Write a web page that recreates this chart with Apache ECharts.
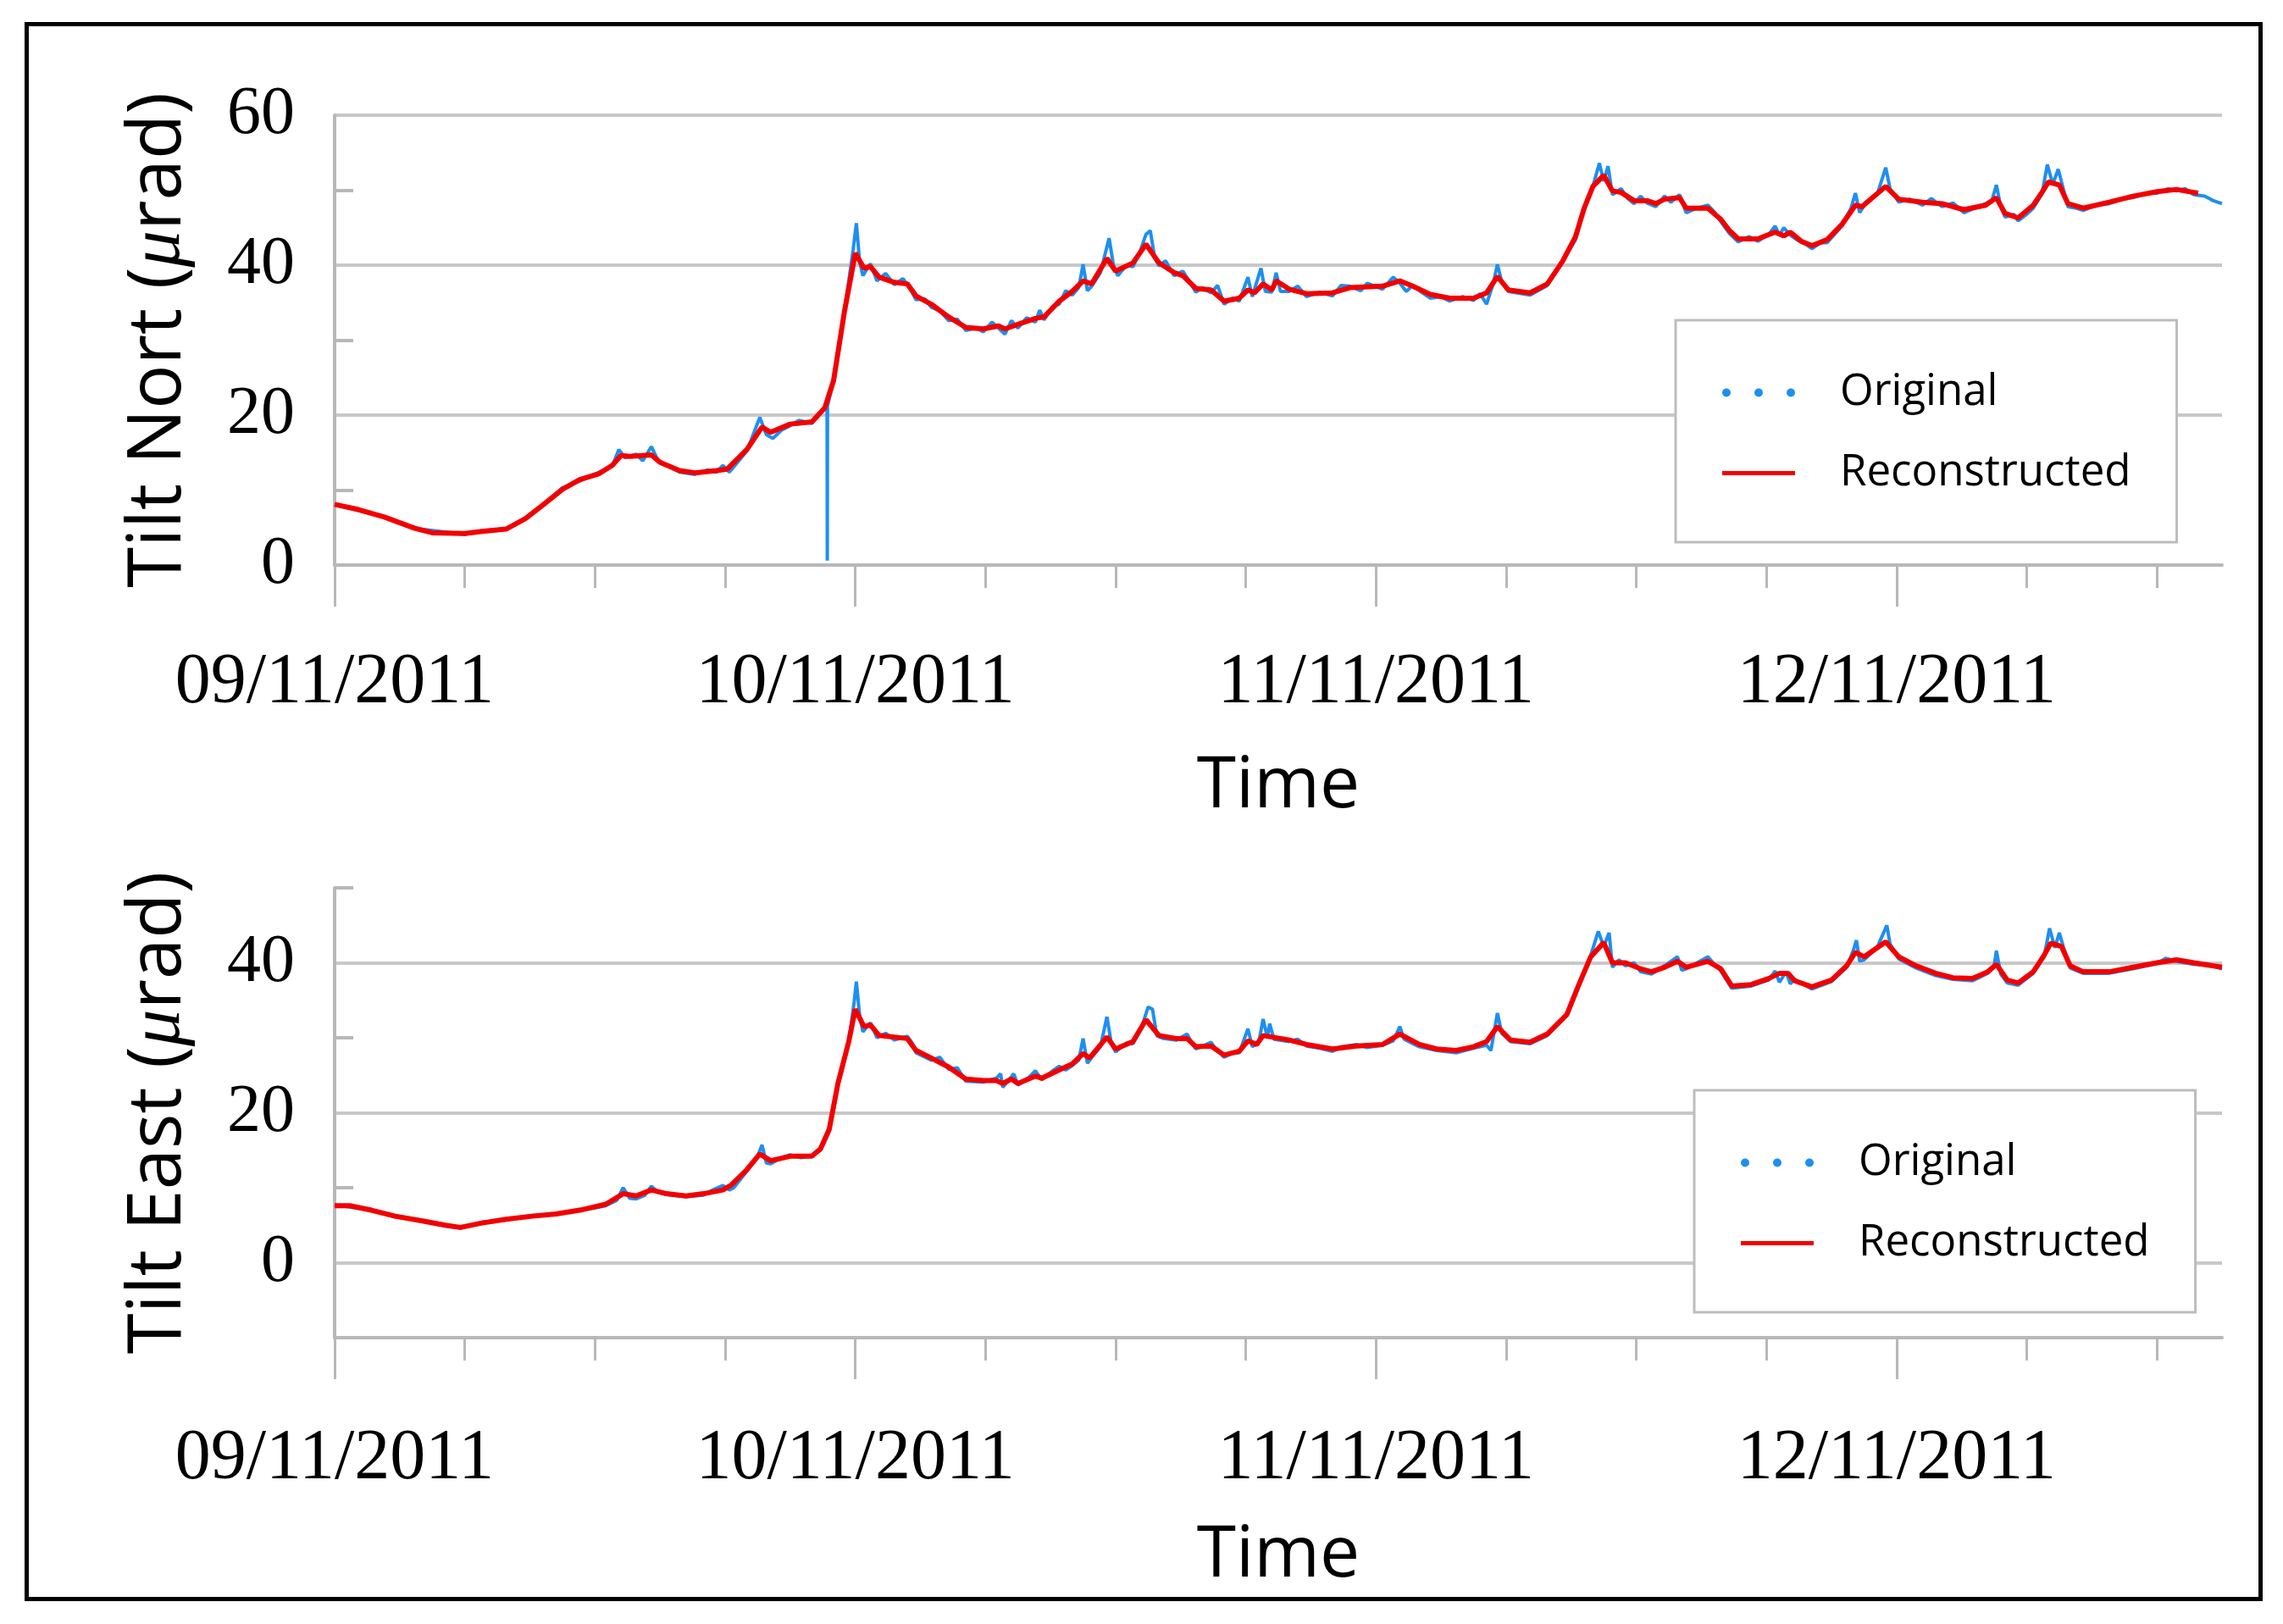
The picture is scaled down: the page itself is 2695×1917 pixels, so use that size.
<!DOCTYPE html>
<html>
<head>
<meta charset="utf-8">
<script src="https://cdn.jsdelivr.net/npm/echarts@6/dist/echarts.min.js"></script>
<style>
html,body{margin:0;padding:0;background:#fff;}
#chart{width:2695px;height:1917px;}
</style>
</head>
<body>
<div id="chart"></div>
<script>
// ---- data (hours since 09/11/2011 00:00, value in microrad) ----
const DAY_TICKS = [0, 24, 48, 72];
const DAY_LABELS = ['09/11/2011', '10/11/2011', '11/11/2011', '12/11/2011'];
const HOUR_TICKS = [6, 12, 18, 30, 36, 42, 54, 60, 66, 78, 84];
const NORTH_LABELS = [0, 20, 40, 60];
const NORTH_MINOR = [10, 30, 50];
const EAST_LABELS = [0, 20, 40];
const EAST_MINOR = [10, 30, 50];

const northReconstructed = [[0,8.1],[1.1,7.4],[2.3,6.4],[3.7,4.9],[4.5,4.3],[6,4.2],[6.8,4.5],[7.9,4.8],[8.8,6.2],[9.6,8.0],[10.5,10.1],[11.3,11.4],[12.2,12.2],[12.8,13.3],[13.2,14.6],[13.6,14.5],[14.6,14.7],[15.0,13.7],[15.9,12.6],[16.6,12.3],[17.6,12.6],[18.1,12.8],[19.0,15.4],[19.7,18.4],[20.1,17.7],[21.0,18.8],[22.0,19.1],[22.6,21.0],[23.0,24.6],[23.5,33.8],[24.0,41.6],[24.4,39.6],[24.7,39.8],[25.1,38.4],[25.8,37.7],[26.4,37.5],[26.8,35.9],[27.5,34.8],[28.3,33.1],[29.1,31.7],[29.9,31.5],[30.6,31.9],[30.9,31.5],[31.5,32.1],[32.3,32.9],[32.7,33.1],[33.4,35.2],[34.0,36.5],[34.5,37.9],[34.9,37.5],[35.6,40.9],[36.0,39.2],[36.8,40.3],[37.4,42.8],[38.0,40.3],[38.7,39.0],[39.1,38.6],[39.7,36.9],[40.4,36.7],[41.0,35.2],[41.7,35.6],[42.1,36.7],[42.4,36.3],[42.8,37.5],[43.2,36.7],[43.4,37.9],[44.0,36.8],[44.8,36.2],[46.0,36.3],[46.8,37.0],[48.3,37.2],[49.1,37.9],[49.7,37.2],[50.5,36.1],[51.4,35.6],[52.5,35.6],[53.1,36.3],[53.6,38.5],[54.1,36.7],[55.1,36.3],[55.9,37.5],[56.6,40.5],[57.2,43.8],[57.6,47.6],[58.0,50.5],[58.5,52.0],[58.9,49.9],[59.3,49.7],[59.9,48.6],[60.5,48.6],[60.9,48.2],[61.3,48.8],[62.0,49.0],[62.3,47.6],[63.3,47.6],[63.9,46.1],[64.3,44.6],[64.7,43.5],[65.6,43.5],[66.4,44.4],[66.8,43.9],[67.1,44.4],[67.6,43.2],[68.1,42.6],[68.8,43.4],[69.5,45.5],[70.1,48.0],[70.4,47.8],[71.5,50.5],[72.1,48.8],[73.2,48.4],[74.1,48.2],[75.1,47.4],[76.1,48.0],[76.6,49.0],[77.0,46.9],[77.6,46.3],[78.3,48.0],[78.7,49.7],[79.0,51.1],[79.5,50.7],[79.9,48.2],[80.6,47.6],[81.8,48.4],[82.9,49.2],[84.0,49.8],[84.9,50.1],[85.7,49.7],[85.9,49.6]];

const northOriginal = [[0,8.1],[2.3,6.4],[3.7,4.9],[6,4.1],[7,4.6],[7.9,4.8],[8.8,6.3],[9.6,7.9],[10.5,10.3],[11.3,11.2],[12.2,12.4],[12.8,13.2],[13.1,15.4],[13.4,14.3],[13.9,14.8],[14.2,13.9],[14.6,15.8],[14.9,14.0],[15.3,13.3],[15.9,12.4],[16.6,12.1],[17.2,12.7],[17.6,12.4],[17.9,13.3],[18.2,12.4],[19.0,15.2],[19.6,19.7],[19.9,17.4],[20.2,16.9],[20.6,18.0],[21.0,18.6],[21.4,19.3],[22.0,18.9],[22.5,20.6],[22.7,21.0],[22.71,0.6],[22.72,21.2],[23.0,24.6],[23.5,33.8],[23.9,42.0],[24.05,45.6],[24.2,40.5],[24.35,38.6],[24.7,40.2],[25.0,37.9],[25.4,38.9],[25.8,37.4],[26.2,38.2],[26.5,37.0],[26.8,35.4],[27.2,35.5],[27.5,34.4],[27.9,33.9],[28.3,32.6],[28.7,32.8],[29.1,31.3],[29.6,31.6],[29.9,31.1],[30.3,32.4],[30.6,31.6],[30.9,30.8],[31.2,32.6],[31.5,31.6],[31.9,33.0],[32.3,32.4],[32.5,34.0],[32.7,32.7],[33.1,34.5],[33.4,34.8],[33.7,36.6],[34.0,36.0],[34.3,37.0],[34.5,40.1],[34.7,36.6],[34.9,37.2],[35.3,39.0],[35.7,43.6],[35.9,40.0],[36.1,38.6],[36.5,40.0],[36.8,39.8],[37.1,41.6],[37.4,44.1],[37.6,44.6],[37.8,41.0],[38.0,39.9],[38.3,40.6],[38.7,38.6],[39.1,39.2],[39.3,38.3],[39.7,36.4],[40.0,37.0],[40.4,36.3],[40.7,37.3],[41.0,34.8],[41.4,35.6],[41.7,35.2],[42.1,38.4],[42.3,35.8],[42.7,39.6],[42.9,36.5],[43.2,36.4],[43.4,39.0],[43.6,36.5],[44.0,36.5],[44.4,37.2],[44.8,35.8],[45.4,36.4],[46.0,35.9],[46.4,37.3],[46.8,37.2],[47.3,36.6],[47.6,37.6],[48.3,36.8],[48.8,38.4],[49.1,37.6],[49.4,36.5],[49.7,37.3],[50.1,36.4],[50.5,35.6],[51.0,35.8],[51.4,35.2],[52.0,35.8],[52.5,35.3],[52.8,36.2],[53.1,34.8],[53.4,37.5],[53.6,40.1],[53.8,37.8],[54.1,36.5],[55.1,36.0],[55.9,37.3],[56.6,40.5],[57.2,43.4],[57.6,47.6],[58.0,50.5],[58.3,53.6],[58.5,51.2],[58.7,53.2],[58.9,49.4],[59.3,50.2],[59.6,48.9],[59.9,48.2],[60.2,49.2],[60.5,48.3],[60.9,47.8],[61.3,49.2],[61.6,48.4],[62.0,49.4],[62.3,47.0],[62.8,47.6],[63.3,48.0],[63.6,47.1],[63.9,45.8],[64.3,44.2],[64.7,43.1],[65.2,43.8],[65.6,43.2],[66.1,44.1],[66.4,45.2],[66.6,44.0],[66.8,45.0],[67.1,44.0],[67.4,43.4],[67.8,42.8],[68.1,42.2],[68.5,43.0],[68.8,43.0],[69.5,45.3],[69.9,47.6],[70.1,49.6],[70.3,47.0],[70.6,48.4],[71.1,49.4],[71.5,53.0],[71.7,50.2],[72.1,48.4],[72.6,48.8],[73.2,48.0],[73.6,48.9],[74.1,47.8],[74.6,48.3],[75.1,47.0],[75.6,47.6],[76.1,48.2],[76.4,48.7],[76.6,50.7],[76.8,47.8],[77.0,46.4],[77.4,46.8],[77.6,45.9],[78.0,46.8],[78.3,47.6],[78.7,49.5],[78.95,53.4],[79.2,50.8],[79.45,52.8],[79.7,50.0],[79.9,47.8],[80.3,47.6],[80.6,47.3],[81.2,48.0],[81.8,48.2],[82.4,48.8],[82.9,49.0],[83.5,49.6],[84.0,49.6],[84.5,50.2],[84.9,49.9],[85.3,50.2],[85.7,49.4],[86.2,49.2],[86.6,48.6],[87.0,48.2]];

const eastReconstructed = [[0,7.6],[0.7,7.6],[1.7,7.0],[2.8,6.2],[4.0,5.6],[5.1,5.0],[5.8,4.7],[6.8,5.3],[7.9,5.8],[9.1,6.2],[10.2,6.5],[11.3,7.0],[12.5,7.8],[13.3,9.2],[13.9,8.9],[14.6,9.7],[15.3,9.2],[16.2,8.9],[17.0,9.2],[17.9,9.7],[18.3,10.4],[19.0,12.4],[19.6,14.5],[20.1,13.6],[21.0,14.2],[22.0,14.2],[22.4,15.2],[22.8,17.8],[23.2,23.9],[23.7,29.5],[24.0,33.8],[24.4,31.5],[24.7,31.7],[25.1,30.3],[26.4,29.9],[26.8,28.3],[27.5,27.3],[28.3,26.1],[29.1,24.5],[29.9,24.3],[30.5,24.3],[30.8,23.9],[31.2,24.5],[31.5,23.9],[32.3,24.9],[32.6,24.6],[33.4,25.7],[34.0,26.5],[34.5,27.9],[34.8,27.3],[35.6,30.1],[36.0,28.5],[36.8,29.5],[37.4,32.4],[38.0,30.3],[38.8,29.9],[39.3,29.9],[39.7,28.8],[40.4,28.9],[41.0,27.7],[41.7,28.2],[42.1,29.6],[42.5,29.1],[42.8,30.3],[43.2,30.1],[44.0,29.7],[44.8,29.1],[46.0,28.5],[47.1,28.9],[48.3,29.1],[49.1,30.5],[50.0,29.1],[50.8,28.5],[51.7,28.3],[52.5,28.8],[53.1,29.5],[53.6,31.5],[54.2,29.7],[55.1,29.4],[55.9,30.5],[56.8,33.1],[57.3,36.7],[57.9,40.8],[58.5,42.7],[58.9,40.0],[59.5,40.0],[60.2,39.2],[60.7,38.8],[61.3,39.4],[61.9,40.2],[62.3,39.4],[63.3,40.2],[63.9,39.2],[64.4,36.9],[65.3,37.1],[66.1,37.9],[66.6,38.6],[67.0,38.6],[67.3,37.6],[68.1,36.8],[69.0,37.7],[69.7,39.6],[70.1,41.4],[70.5,40.8],[71.5,42.8],[72.1,40.8],[72.9,39.6],[73.8,38.6],[74.6,38.0],[75.5,37.9],[76.2,38.8],[76.6,39.8],[77.1,37.7],[77.6,37.3],[78.3,38.8],[78.8,41.0],[79.1,42.6],[79.6,42.2],[80.0,39.6],[80.6,38.8],[81.8,38.8],[82.9,39.4],[84.0,40.0],[84.9,40.4],[85.7,40.0],[87.0,39.4]];

const eastOriginal = [[0,7.7],[1.7,7.0],[2.8,6.1],[4.0,5.6],[5.1,4.9],[5.8,4.6],[6.8,5.4],[7.9,5.7],[9.1,6.3],[10.2,6.4],[11.3,7.1],[12.0,7.3],[12.5,7.6],[13.0,8.3],[13.3,10.0],[13.6,8.6],[13.9,8.5],[14.3,9.0],[14.6,10.2],[14.9,9.4],[15.3,9.1],[16.2,8.8],[17.0,9.0],[17.5,9.8],[17.9,10.3],[18.2,9.7],[18.4,10.0],[19.0,12.2],[19.5,14.2],[19.7,15.7],[19.9,13.3],[20.1,13.2],[20.6,14.0],[21.0,14.4],[21.5,14.0],[22.0,14.3],[22.4,15.0],[22.8,17.5],[23.2,23.6],[23.7,29.5],[23.95,34.8],[24.05,37.5],[24.2,33.0],[24.35,30.8],[24.7,32.0],[25.0,30.0],[25.4,30.6],[25.8,29.7],[26.4,30.2],[26.6,29.4],[26.8,28.0],[27.5,27.0],[27.9,27.4],[28.3,25.8],[28.7,26.0],[29.1,24.2],[29.9,24.1],[30.5,24.6],[30.7,25.2],[30.8,23.4],[31.2,24.8],[31.3,25.2],[31.5,23.7],[32.0,24.7],[32.3,25.6],[32.6,24.4],[33.1,25.6],[33.4,26.2],[33.7,25.7],[34.0,26.3],[34.3,27.0],[34.5,29.9],[34.7,26.6],[34.9,27.4],[35.3,28.8],[35.6,32.8],[35.8,29.3],[36.0,28.1],[36.5,29.3],[36.8,29.2],[37.2,31.4],[37.5,34.1],[37.7,33.8],[37.9,30.3],[38.2,29.9],[38.8,29.7],[39.3,30.5],[39.5,29.4],[39.7,28.5],[40.1,29.0],[40.4,29.4],[40.6,28.6],[41.0,27.4],[41.4,28.0],[41.7,28.0],[42.1,31.2],[42.3,28.8],[42.6,29.4],[42.8,32.5],[43.0,30.0],[43.1,31.9],[43.3,29.8],[44.0,29.5],[44.4,29.8],[44.8,28.9],[45.4,28.6],[46.0,28.2],[46.4,28.8],[47.1,29.1],[47.6,28.7],[48.3,29.0],[48.8,29.6],[49.1,31.5],[49.3,29.8],[50.0,28.8],[50.8,28.3],[51.7,28.0],[52.5,28.6],[53.1,29.0],[53.3,28.3],[53.6,33.3],[53.8,30.6],[54.2,29.5],[55.1,29.2],[55.9,30.3],[56.8,33.0],[57.3,36.5],[57.9,41.0],[58.25,44.2],[58.5,42.2],[58.75,44.0],[58.9,39.4],[59.2,40.4],[59.5,39.6],[59.9,40.0],[60.2,38.8],[60.7,38.5],[61.3,39.6],[61.9,40.8],[62.1,39.0],[62.3,39.2],[62.8,40.0],[63.3,40.8],[63.6,39.8],[63.9,38.9],[64.4,36.6],[65.3,36.9],[66.1,37.7],[66.4,38.9],[66.6,37.4],[66.9,38.8],[67.1,37.2],[67.3,37.8],[68.1,36.5],[69.0,37.5],[69.7,39.4],[70.0,41.6],[70.15,43.0],[70.3,40.2],[70.5,40.4],[71.1,42.0],[71.4,44.0],[71.55,45.0],[71.7,42.5],[72.1,40.5],[72.9,39.3],[73.8,38.3],[74.6,37.8],[75.5,37.6],[76.2,38.6],[76.5,39.6],[76.6,41.6],[76.8,38.5],[77.1,37.3],[77.6,37.0],[78.3,38.6],[78.8,40.8],[79.05,44.6],[79.3,42.0],[79.5,44.0],[79.7,42.0],[80.0,39.3],[80.6,38.6],[81.8,38.6],[82.9,39.2],[84.0,39.9],[84.4,40.6],[84.9,40.2],[85.7,39.8],[86.4,39.7],[87.0,39.2]];

// ---- styles ----
const AXIS_GRAY = '#b8b8b8';
const GRID_GRAY = '#c8c8c8';
const BLUE = '#1e8ff0';
const RED = '#f20000';
const SERIF = 'Liberation Serif';
const SANS = 'Open Sans';

function dayLabel(v) {
  const i = DAY_TICKS.indexOf(v);
  return i >= 0 ? DAY_LABELS[i] : '';
}

function mainX(gridIndex, margin, nameGap) {
  return {
    type: 'value', gridIndex, min: 0, max: 87, position: 'bottom',
    axisLine: { show: true, onZero: false, lineStyle: { color: AXIS_GRAY, width: 4 } },
    axisTick: { show: true, customValues: DAY_TICKS, length: 49, lineStyle: { color: AXIS_GRAY, width: 3 } },
    axisLabel: { customValues: DAY_TICKS, formatter: dayLabel, margin, color: '#000', fontFamily: SERIF, fontSize: 84 },
    splitLine: { show: false },
    name: 'Time', nameLocation: 'middle', nameGap,
    nameTextStyle: { fontFamily: SANS, fontSize: 84, color: '#000', lineHeight: 84 }
  };
}
function minorX(gridIndex) {
  return {
    type: 'value', gridIndex, min: 0, max: 87, position: 'bottom',
    axisLine: { show: false, onZero: false },
    axisTick: { show: true, customValues: HOUR_TICKS, length: 27, lineStyle: { color: AXIS_GRAY, width: 3 } },
    axisLabel: { show: false },
    splitLine: { show: false }
  };
}
function nameRich(label) {
  return {
    name: '{a|Tilt ' + label + ' (}{m|μ}{a|rad)}',
    nameLocation: 'middle', nameRotate: 90, nameGap: 163,
    nameTextStyle: {
      fontFamily: SANS, fontSize: 87, color: '#000', lineHeight: 87,
      rich: {
        a: { fontFamily: SANS, fontSize: 87, color: '#000', lineHeight: 87 },
        m: { fontFamily: SERIF, fontStyle: 'italic', fontSize: 87, color: '#000', lineHeight: 87 }
      }
    }
  };
}

const option = {
  backgroundColor: '#fff',
  animation: false,
  graphic: [{
    type: 'rect', left: 29, top: 26, z: 100, silent: true,
    shape: { width: 2637, height: 1859 },
    style: { fill: 'none', stroke: '#000', lineWidth: 5 }
  }],
  grid: [
    { left: 395, top: 136, width: 2228, height: 531 },
    { left: 395, top: 1048, width: 2228, height: 531 }
  ],
  legend: [0, 1].map(i => ({
    orient: 'vertical',
    left: i === 0 ? 1978 : 2000,
    top: i === 0 ? 378 : 1287,
    padding: [60, 54, 56, 55],
    itemGap: 44,
    itemWidth: 86, itemHeight: 10,
    borderColor: '#bdbdbd', borderWidth: 3, backgroundColor: '#fff',
    itemStyle: { borderWidth: 0 },
    textStyle: { fontFamily: SANS, fontSize: 51, color: '#000', lineHeight: 50, padding: [0, 0, 0, 48] },
    data: [
      { name: 'Original', icon: 'path://M0,5a5,5 0 1,0 10,0a5,5 0 1,0 -10,0zM38,5a5,5 0 1,0 10,0a5,5 0 1,0 -10,0zM76,5a5,5 0 1,0 10,0a5,5 0 1,0 -10,0z' },
      { name: 'Reconstructed', icon: 'path://M0,0H86V5H0z' }
    ]
  })),
  xAxis: [mainX(0, 98, 220), minorX(0), mainX(1, 102, 216), minorX(1)],
  yAxis: [
    Object.assign({
      type: 'value', gridIndex: 0, min: 0, max: 60, interval: 20,
      axisLine: { show: true, lineStyle: { color: AXIS_GRAY, width: 4 } },
      axisTick: { show: false },
      axisLabel: { customValues: NORTH_LABELS, margin: 47, color: '#000', fontFamily: SERIF, fontSize: 80 },
      splitLine: { show: true, lineStyle: { color: GRID_GRAY, width: 4 } }
    }, nameRich('Nort')),
    {
      type: 'value', gridIndex: 0, min: 0, max: 60, position: 'left',
      axisLine: { show: false }, axisLabel: { show: false }, splitLine: { show: false },
      axisTick: { show: true, inside: true, customValues: NORTH_MINOR, length: 22, lineStyle: { color: AXIS_GRAY, width: 4 } }
    },
    Object.assign({
      type: 'value', gridIndex: 1, min: -10, max: 50,
      axisLine: { show: true, onZero: false, lineStyle: { color: AXIS_GRAY, width: 4 } },
      axisTick: { show: false, customValues: EAST_LABELS },
      axisLabel: { customValues: EAST_LABELS, margin: 47, color: '#000', fontFamily: SERIF, fontSize: 80 },
      splitLine: { show: true, lineStyle: { color: GRID_GRAY, width: 4 } }
    }, nameRich('East')),
    {
      type: 'value', gridIndex: 1, min: -10, max: 50, position: 'left',
      axisLine: { show: false, onZero: false }, axisLabel: { show: false }, splitLine: { show: false },
      axisTick: { show: true, inside: true, customValues: EAST_MINOR, length: 22, lineStyle: { color: AXIS_GRAY, width: 4 } }
    }
  ],
  series: [
    { name: 'Original', type: 'line', xAxisIndex: 0, yAxisIndex: 0, data: northOriginal, showSymbol: false, symbol: 'none',
      itemStyle: { color: BLUE }, lineStyle: { color: BLUE, width: 4 }, z: 2 },
    { name: 'Reconstructed', type: 'line', xAxisIndex: 0, yAxisIndex: 0, data: northReconstructed, showSymbol: false, symbol: 'none',
      itemStyle: { color: RED }, lineStyle: { color: RED, width: 6 }, z: 3 },
    { name: 'Original', type: 'line', xAxisIndex: 2, yAxisIndex: 2, data: eastOriginal, showSymbol: false, symbol: 'none',
      itemStyle: { color: BLUE }, lineStyle: { color: BLUE, width: 4 }, z: 2 },
    { name: 'Reconstructed', type: 'line', xAxisIndex: 2, yAxisIndex: 2, data: eastReconstructed, showSymbol: false, symbol: 'none',
      itemStyle: { color: RED }, lineStyle: { color: RED, width: 6 }, z: 3 }
  ]
};

const chart = echarts.init(document.getElementById('chart'), null, { renderer: 'canvas' });
chart.setOption(option);
</script>
</body>
</html>
